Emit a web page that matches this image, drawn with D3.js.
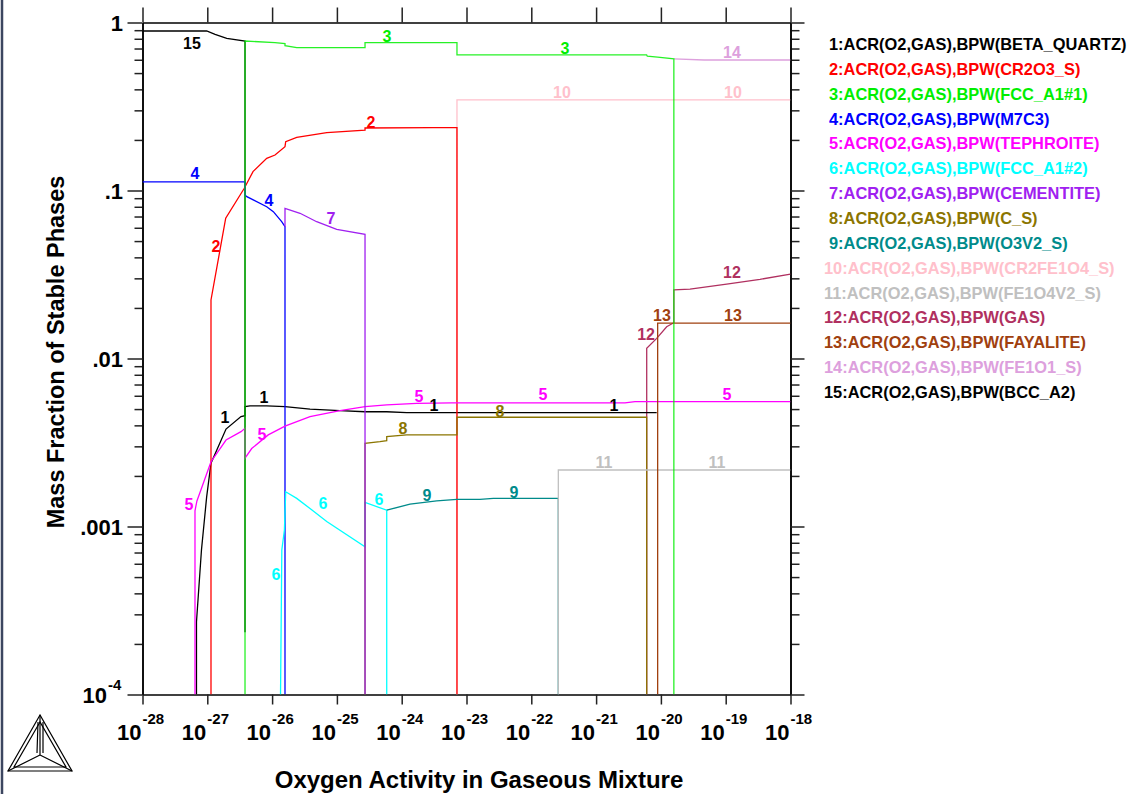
<!DOCTYPE html>
<html><head><meta charset="utf-8">
<script src="https://cdn.jsdelivr.net/npm/d3@7"></script>
<style>
body{margin:0;background:#fff;}
svg{display:block;font-family:"Liberation Sans",Arial,sans-serif;font-weight:bold;}
</style>
</head><body><svg id="c" width="1128" height="794"></svg>
<script>
// ---- data: [log10(oxygen activity), mass fraction] ----
const phase1 = [[-27.167,1e-4],[-27.167,0.00027],[-27.09,0.000725],[-27.01,0.0015],[-26.943,0.00238],[-26.711,0.0038],[-26.48,0.00451],[-26.418,0.00457],[-26.418,0.00517],[-26.341,0.00522],[-26.083,0.00522],[-25.801,0.00517],[-25.415,0.00499],[-24.952,0.00489],[-24.566,0.00482],[-24.231,0.00482],[-23.923,0.00476],[-20.065,0.00476]];
const phase2 = [[-26.943,1e-4],[-26.943,0.0223],[-26.804,0.0443],[-26.716,0.0684],[-26.429,0.1031],[-26.295,0.1295],[-26.083,0.1555],[-25.955,0.1626],[-25.801,0.1823],[-25.79,0.1952],[-25.62,0.2073],[-25.157,0.221],[-24.566,0.229],[-24.566,0.2355],[-23.517,0.2365],[-23.147,0.2365],[-23.147,1e-4]];
const phase3 = [[-26.418,1e-4],[-26.418,0.776],[-25.955,0.758],[-25.801,0.75],[-25.801,0.728],[-25.62,0.708],[-24.566,0.708],[-24.566,0.758],[-23.147,0.758],[-23.147,0.641],[-20.22,0.641],[-20.21,0.63],[-20.05,0.622],[-19.8,0.607],[-19.8,1e-4]];
const phase4 = [[-28,0.1124],[-26.418,0.1124],[-26.418,0.094],[-26.39,0.0919],[-26.083,0.0801],[-25.981,0.0748],[-25.852,0.0652],[-25.801,0.0609],[-25.801,1e-4]];
const phase5 = [[-27.19,1e-4],[-27.19,0.00124],[-27.16,0.00142],[-26.943,0.00243],[-26.711,0.00327],[-26.48,0.00367],[-26.418,0.00384],[-26.418,0.00255],[-26.315,0.00291],[-26.06,0.00351],[-25.801,0.00396],[-25.415,0.00451],[-24.952,0.00489],[-24.566,0.00517],[-24.231,0.00529],[-23.769,0.00541],[-23.228,0.00545],[-20.554,0.00545],[-20.4,0.00553],[-18,0.00553]];
const phase6 = [[-25.87,1e-4],[-25.85,0.000725],[-25.81,0.000953],[-25.79,0.00161],[-25.62,0.00147],[-25.415,0.00128],[-25.157,0.00107],[-24.566,0.000758],[-24.566,0.00139],[-24.231,0.00125],[-24.231,1e-4]];
const phase7 = [[-25.801,0.0609],[-25.801,0.0783],[-25.569,0.0732],[-25.312,0.0652],[-25.003,0.0587],[-24.566,0.0549],[-24.566,1e-4]];
const phase8 = [[-24.566,1e-4],[-24.566,0.00313],[-24.336,0.0032],[-24.231,0.00324],[-24.231,0.00343],[-23.923,0.00351],[-23.147,0.00351],[-23.147,0.00447],[-20.219,0.00447],[-20.219,1e-4]];
const phase9 = [[-24.231,0.00125],[-23.872,0.00136],[-23.46,0.00142],[-23.147,0.00145],[-22.792,0.00145],[-22.586,0.00147],[-21.583,0.00147],[-21.583,1e-4]];
const phase10 = [[-23.147,1e-4],[-23.147,0.346],[-18,0.346]];
const phase11 = [[-21.583,1e-4],[-21.583,0.00217],[-18,0.00217]];
const phase12 = [[-20.219,1e-4],[-20.219,0.0115],[-20.065,0.01318],[-19.911,0.01546],[-19.8,0.01633],[-19.8,0.0256],[-19.551,0.0259],[-18.985,0.0277],[-18.471,0.0296],[-18,0.0318]];
const phase13 = [[-20.05,1e-4],[-20.05,0.01622],[-18,0.01622]];
const phase14 = [[-19.8,0.607],[-19.335,0.598],[-18,0.598]];
const phase15 = [[-28,0.89],[-27.01,0.89],[-26.88,0.851],[-26.7,0.805],[-26.418,0.776],[-26.418,0.000235]];

const phaseNames = ["BETA_QUARTZ","CR2O3_S","FCC_A1#1","M7C3","TEPHROITE","FCC_A1#2","CEMENTITE","C_S","O3V2_S","CR2FE1O4_S","FE1O4V2_S","GAS","FAYALITE","FE1O1_S","BCC_A2"];
const phaseColors = ["#000000","#ff0000","#00ee00","#0000ff","#ff00ff","#00ffff","#a020f0","#8b7500","#008b8b","#ffc0cb","#c0c0c0","#b03060","#a0400f","#dda0dd","#000000"];
const phaseData = [phase1,phase2,phase3,phase4,phase5,phase6,phase7,phase8,phase9,phase10,phase11,phase12,phase13,phase14,phase15];

// curve labels: [series number, log10 activity, mass fraction]
const curveLabels = [[15,-27.236,0.755],[3,-24.227,0.831],[3,-21.48,0.705],[14,-18.903,0.667],[10,-21.526,0.386],[10,-18.888,0.386],
 [2,-24.474,0.2557],[2,-26.866,0.0467],[4,-27.19,0.127],[4,-26.048,0.0878],[7,-25.091,0.0686],[12,-18.903,0.0327],[12,-20.228,0.01399],
 [13,-19.983,0.01815],[13,-18.888,0.01815],[1,-26.125,0.0059],[1,-26.727,0.00449],[1,-23.502,0.00529],[1,-20.724,0.00529],
 [5,-23.733,0.00598],[5,-21.819,0.00615],[5,-18.98,0.00615],[5,-26.156,0.00355],[5,-27.282,0.00136],[8,-23.98,0.00386],[8,-22.483,0.00487],
 [6,-25.215,0.00138],[6,-24.35,0.001458],[6,-25.94,0.000522],[9,-23.61,0.00154],[9,-22.267,0.0016],[11,-20.878,0.00242],[11,-19.134,0.00242]];

const xExponents = [-28,-27,-26,-25,-24,-23,-22,-21,-20,-19,-18];
const yMajor = [1e-4,1e-3,1e-2,1e-1,1];
const yMajorLabels = ["10^-4",".001",".01",".1","1"];

// ---- drawing ----
const svg = d3.select("#c");
const L=142.5, R=790.5, T=22.5, B=694.5;
const x = d3.scaleLog().domain([1e-28,1e-18]).range([L,R]);
const y = d3.scaleLog().domain([1e-4,1]).range([B,T]);

svg.append("rect").attr("width",1128).attr("height",794).attr("fill","#fff");
svg.append("line").attr("x1",2).attr("x2",2).attr("y1",0).attr("y2",794).attr("stroke","#3c4660").attr("stroke-width",2.5);

svg.append("defs").append("clipPath").attr("id","clip").append("rect")
  .attr("x",L).attr("y",T-1).attr("width",R-L).attr("height",B-T+1);

const yMinor = [];
for (let d=-4; d<0; d++) for (let m=2; m<=9; m++) yMinor.push(m*Math.pow(10,d));
const xMajor = xExponents.map(e=>Math.pow(10,e));

function styleAxis(g){
  g.selectAll("path.domain").attr("stroke","#000").attr("stroke-width",1.5);
  g.selectAll(".tick line").attr("stroke","#222").attr("stroke-width",1.5);
  g.selectAll(".tick text").remove();
}
svg.append("g").attr("transform",`translate(${L},0)`).call(d3.axisLeft(y).tickValues(yMinor).tickSize(8).tickSizeOuter(0)).call(styleAxis);
svg.append("g").attr("transform",`translate(${L},0)`).call(d3.axisLeft(y).tickValues(yMajor).tickSize(15).tickSizeOuter(0)).call(styleAxis);
svg.append("g").attr("transform",`translate(${R},0)`).call(d3.axisRight(y).tickValues(yMinor).tickSize(9).tickSizeOuter(0)).call(styleAxis);
svg.append("g").attr("transform",`translate(${R},0)`).call(d3.axisRight(y).tickValues(yMajor).tickSize(14).tickSizeOuter(0)).call(styleAxis);
svg.append("g").attr("transform",`translate(0,${T})`).call(d3.axisTop(x).tickValues(xMajor).tickSize(15).tickSizeOuter(0)).call(styleAxis);
svg.append("g").attr("transform",`translate(0,${B})`).call(d3.axisBottom(x).tickValues(xMajor).tickSize(10).tickSizeOuter(0)).call(styleAxis);

// x tick labels
xExponents.forEach(e=>{
  const px = x(Math.pow(10,e));
  svg.append("text").attr("x",px-1).attr("y",740).attr("text-anchor","end")
    .attr("font-size",22).attr("fill","#000").text("10");
  svg.append("text").attr("x",px).attr("y",724).attr("text-anchor","start")
    .attr("font-size",15).attr("fill","#000").text(String(e));
});
// y tick labels
yMajor.forEach((v,i)=>{
  const lab = yMajorLabels[i];
  const py = y(v);
  if (lab.startsWith("10^")) {
    svg.append("text").attr("x",107).attr("y",py+8).attr("text-anchor","end").attr("font-size",22).text("10");
    svg.append("text").attr("x",108).attr("y",py-5).attr("text-anchor","start").attr("font-size",15).text(lab.slice(3));
  } else {
    svg.append("text").attr("x",123).attr("y",py+8).attr("text-anchor","end").attr("font-size",22).text(lab);
  }
});

// axis titles
svg.append("text").attr("transform","translate(64,352) rotate(-90)").attr("text-anchor","middle")
  .attr("font-size",23.5).text("Mass Fraction of Stable Phases");
svg.append("text").attr("x",479).attr("y",788).attr("text-anchor","middle")
  .attr("font-size",24).text("Oxygen Activity in Gaseous Mixture");

// curves
const line = d3.line().x(d=>x(Math.pow(10,d[0]))).y(d=>y(d[1]));
const plot = svg.append("g").attr("clip-path","url(#clip)");
const order = [14,9,11,0,1,3,4,5,7,6,8,10,12,13,2];
order.forEach(i=>{
  plot.append("path").attr("d",line(phaseData[i])).attr("fill","none")
    .attr("stroke",phaseColors[i]).attr("stroke-width",1.3)
    .attr("stroke-opacity", i===2 ? 0.85 : 1);
});

// curve labels
curveLabels.forEach(([n,e,v])=>{
  svg.append("text").attr("x",x(Math.pow(10,e))).attr("y",y(v)+6).attr("text-anchor","middle")
    .attr("font-size",16).attr("fill",phaseColors[n-1]).text(String(n));
});

// legend
phaseNames.forEach((nm,i)=>{
  svg.append("text").attr("x", i<9 ? 829 : 824).attr("y",50+i*24.86)
    .attr("font-size",16.4).attr("fill",phaseColors[i])
    .text(`${i+1}:ACR(O2,GAS),BPW(${nm})`);
});

// logo
const logo = svg.append("g").attr("fill","none").attr("stroke","#000").attr("stroke-width",1.2);
logo.append("path").attr("d","M40,715 L8,771 L72,771 Z");
logo.append("path").attr("d","M40,722 L14,767 L66,767 Z");
logo.append("path").attr("d","M40,715 L40,755 M8,771 L40,755 M72,771 L40,755");
logo.append("path").attr("d","M38,722 L37,753 M43,722 L43,753");
</script></body></html>
